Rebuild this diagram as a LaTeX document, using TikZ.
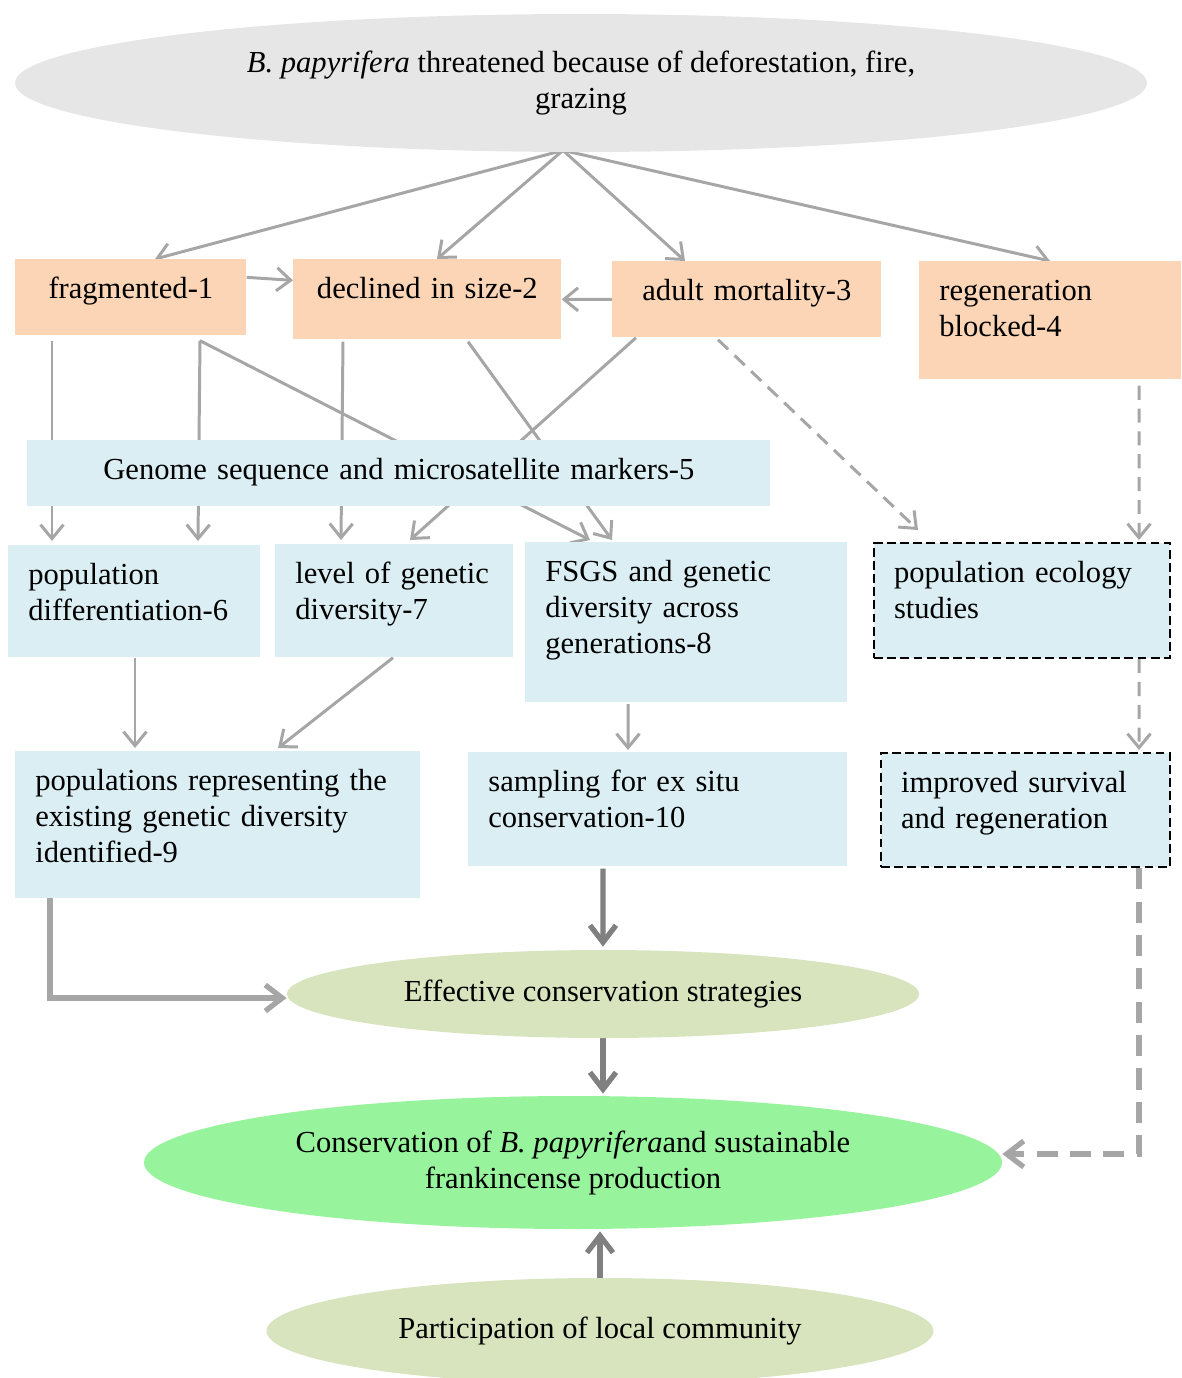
\documentclass[tikz,border=0pt]{standalone}
\usepackage{fontspec}
\setmainfont{Liberation Serif}
\usetikzlibrary{shapes.geometric, arrows.meta, backgrounds}
\definecolor{threatgray}{HTML}{E6E6E6}
\definecolor{peach}{HTML}{FBD5B5}
\definecolor{paleblue}{HTML}{DAEEF3}
\definecolor{olivepale}{HTML}{D7E4BD}
\definecolor{mintgreen}{HTML}{98F49C}
\definecolor{linegray}{HTML}{A6A6A6}
\definecolor{darkline}{HTML}{808080}
\hyphenpenalty=10000

\begin{document}
\begin{tikzpicture}[
        threat_ellipse/.style={ellipse, fill=threatgray, minimum width=22.64cm, minimum height=2.76cm, align=center},
        cause_box/.style={anchor=north west, fill=peach, inner xsep=0.4cm, inner ysep=0.3cm, text height=0.48cm, text depth=0.44cm, align=center},
        study_box/.style={anchor=north west, fill=paleblue, inner xsep=0.4cm, inner ysep=0.3cm, text height=0.48cm, text depth=0.44cm, align=left},
        open_box/.style={study_box, draw=black, line width=1.2pt, dash pattern=on 5pt off 2.5pt},
        goal_ellipse/.style={ellipse, fill=olivepale, align=center},
        flow/.style={->, draw=linegray, line width=1.7pt},
        open_flow/.style={flow, dash pattern=on 8pt off 5pt},
        heavy_flow/.style={-{Straight Barb[length=3.4mm,width=5.2mm]}, draw=linegray, line width=3pt},
        dark_flow/.style={heavy_flow, draw=darkline},
        >={Straight Barb[length=2.8mm,width=4.6mm]},
        font=\fontsize{17.4}{20.5}\selectfont
    ]
        \useasboundingbox (0,0) rectangle (23.64,-27.56);

        % Threat and its causes
        \node[threat_ellipse] (threat) at (11.62,-1.66) {\textit{B. papyrifera} threatened because of deforestation, fire,\\grazing};
        \node[cause_box, text width=3.82cm] (frag) at (0.30,-5.18) {fragmented-1};
        \node[cause_box, text width=4.56cm, text depth=0.52cm] (decl) at (5.86,-5.18) {declined in size-2};
        \node[cause_box, text width=4.58cm] (mort) at (12.24,-5.22) {adult mortality-3};
        \node[cause_box, text width=4.44cm, text depth=1.28cm, align=left] (regen) at (18.38,-5.22) {regeneration\\blocked-4};

        % Studies
        \node[study_box, text width=14.06cm, text depth=0.24cm, align=center] (genome) at (0.54,-8.80) {Genome sequence and microsatellite markers-5};
        \node[study_box, text width=4.24cm, text depth=1.16cm] (popdiff) at (0.16,-10.90) {population\\differentiation-6};
        \node[study_box, text width=3.96cm, text depth=1.18cm] (gendiv) at (5.50,-10.88) {level of genetic\\diversity-7};
        \node[study_box, text width=5.64cm, text depth=2.11cm] (fsgs) at (10.50,-10.84) {FSGS and genetic\\diversity across\\generations-8};
        \node[open_box, text width=5.12cm, text depth=1.22cm] (popeco) at (17.46,-10.84) {population ecology\\studies};
        \node[study_box, text width=7.30cm, text depth=1.85cm] (reppop) at (0.30,-15.02) {populations representing the\\existing genetic diversity\\identified-9};
        \node[study_box, text width=6.78cm, text depth=1.20cm] (exsitu) at (9.36,-15.04) {sampling for ex situ\\conservation-10};
        \node[open_box, text width=4.98cm, text depth=1.20cm] (survival) at (17.60,-15.04) {improved survival\\and regeneration};

        % Goals
        \node[goal_ellipse, minimum width=12.64cm, minimum height=1.76cm] (strategy) at (12.06,-19.88) {Effective conservation strategies};
        \node[goal_ellipse, fill=mintgreen, minimum width=17.16cm, minimum height=2.66cm] (conserve) at (11.46,-23.25) {Conservation of \textit{B. papyrifera}and sustainable\\frankincense production};
        \node[goal_ellipse, minimum width=13.34cm, minimum height=2.12cm] (community) at (12.00,-26.62) {Participation of local community};

        \begin{pgfonlayer}{background}
        % Threat to causes
        \draw[flow] ([xshift=-0.36cm,yshift=0.04cm]threat.south) -- ([xshift=2.8cm]frag.north west);
        \draw[flow] ([xshift=-0.36cm,yshift=0.04cm]threat.south) -- ([xshift=2.88cm]decl.north west);
        \draw[flow] ([xshift=-0.36cm,yshift=0.04cm]threat.south) -- ([xshift=1.46cm]mort.north west);
        \draw[flow] ([xshift=-0.36cm,yshift=0.04cm]threat.south) -- ([xshift=2.62cm]regen.north west);
        \draw[flow] ([yshift=0.4cm]frag.east) -- ([yshift=0.38cm]decl.west);
        \draw[flow] (mort.west) -- (decl.east);

        % Causes to studies
        \draw[flow] ([xshift=0.74cm,yshift=-0.1cm]frag.south west) -- ([xshift=0.88cm,yshift=0.08cm]popdiff.north west);
        \draw[flow] ([xshift=3.7cm,yshift=-0.1cm]frag.south west) -- ([xshift=3.8cm,yshift=0.08cm]popdiff.north west);
        \draw[flow] ([xshift=3.7cm,yshift=-0.1cm]frag.south west) -- ([xshift=1.3cm,yshift=0.04cm]fsgs.north west);
        \draw[flow] ([xshift=1.0cm,yshift=-0.04cm]decl.south west) -- ([xshift=1.32cm,yshift=0.08cm]gendiv.north west);
        \draw[flow] ([xshift=3.5cm,yshift=-0.04cm]decl.south west) -- ([xshift=1.74cm,yshift=0.04cm]fsgs.north west);
        \draw[flow] ([xshift=0.48cm]mort.south west) -- ([xshift=2.7cm,yshift=0.08cm]gendiv.north west);
        \draw[open_flow] ([xshift=2.12cm,yshift=-0.04cm]mort.south west) -- ([xshift=0.9cm,yshift=0.24cm]popeco.north west);
        \draw[open_flow] ([xshift=4.4cm,yshift=-0.12cm]regen.south west) -- ([xshift=5.32cm,yshift=0.04cm]popeco.north west);

        % Studies to outcomes
        \draw[flow] ([xshift=2.54cm]popdiff.south west) -- ([xshift=2.4cm,yshift=0.06cm]reppop.north west);
        \draw[flow] ([xshift=2.36cm]gendiv.south west) -- ([xshift=5.26cm,yshift=0.06cm]reppop.north west);
        \draw[flow] ([xshift=2.06cm,yshift=-0.04cm]fsgs.south west) -- ([xshift=3.2cm,yshift=0.04cm]exsitu.north west);
        \draw[open_flow] ([xshift=5.32cm]popeco.south west) -- ([xshift=5.18cm,yshift=0.04cm]survival.north west);

        % Outcomes to goals
        \draw[dark_flow] ([xshift=2.7cm,yshift=-0.04cm]exsitu.south west) -- ([yshift=0.06cm]strategy.north);
        \draw[heavy_flow] ([xshift=0.7cm]reppop.south west) |- ([yshift=-0.08cm]strategy.west);
        \draw[heavy_flow, dash pattern=on 12pt off 7pt] ([xshift=5.18cm]survival.south west) |- ([yshift=0.17cm]conserve.east);
        \draw[dark_flow] (strategy.south) -- ([yshift=0.04cm]strategy.south |- conserve.north);
        \draw[dark_flow] (community.north) -- ([yshift=-0.04cm]community.north |- conserve.south);
        \end{pgfonlayer}
    \end{tikzpicture}
\end{document}
